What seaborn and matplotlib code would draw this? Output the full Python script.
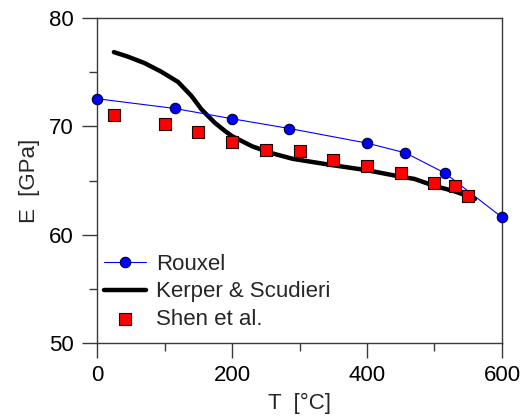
import matplotlib
matplotlib.use("Agg")
import matplotlib.pyplot as plt
from matplotlib.ticker import MultipleLocator
import seaborn as sns
import pandas as pd

# Young's modulus of glass versus temperature
rouxel_T = [0, 115, 200, 285, 400, 457, 515, 600]
rouxel_E = [72.55, 71.65, 70.7, 69.8, 68.45, 67.55, 65.7, 61.6]

kerper_T = [25, 45, 70, 95, 120, 140, 155, 175, 190, 200, 230, 260, 290,
            345, 400, 450, 470, 500, 530, 560]
kerper_E = [76.85, 76.45, 75.85, 75.05, 74.1, 72.8, 71.55, 70.3, 69.55, 69.1,
            68.15, 67.5, 67.0, 66.45, 65.95, 65.35, 65.15, 64.5, 64.0, 63.3]

shen_T = [25, 100, 150, 200, 250, 300, 350, 400, 450, 500, 530, 550]
shen_E = [71.05, 70.25, 69.5, 68.6, 67.8, 67.7, 66.9, 66.3, 65.7, 64.75,
          64.45, 63.6]

x_ticks = [0, 200, 400, 600]
y_ticks = [50, 60, 70, 80]

sns.set_style("ticks")
plt.rcParams["font.family"] = ["Liberation Sans", "DejaVu Sans"]

fig = plt.figure(figsize=(5.26, 4.17), dpi=100)
ax = fig.add_axes([97 / 526, 1 - 343 / 417, 405 / 526, 325 / 417])

rouxel = pd.DataFrame({"T": rouxel_T, "E": rouxel_E})
kerper = pd.DataFrame({"T": kerper_T, "E": kerper_E})
shen = pd.DataFrame({"T": shen_T, "E": shen_E})

sns.lineplot(data=rouxel, x="T", y="E", ax=ax, color="#0000ff", lw=0.8,
             marker="o", markersize=7.5, markerfacecolor="#0000ff",
             markeredgecolor="#000033", markeredgewidth=0.8,
             label="Rouxel", zorder=3, clip_on=False)
sns.lineplot(data=kerper, x="T", y="E", ax=ax, color="black", lw=3.2,
             label="Kerper & Scudieri", zorder=2)
sns.scatterplot(data=shen, x="T", y="E", ax=ax, color="#ff0000", marker="s",
                s=80, edgecolor="#220000", linewidth=0.8,
                label="Shen et al.", zorder=4)

ax.set_xlim(0, 600)
ax.set_ylim(50, 80)
ax.set_xticks(x_ticks)
ax.set_yticks(y_ticks)
ax.xaxis.set_minor_locator(MultipleLocator(100))
ax.yaxis.set_minor_locator(MultipleLocator(5))

spine_color = "#3a3a3a"
for s in ax.spines.values():
    s.set_visible(True)
    s.set_color(spine_color)
    s.set_linewidth(1.0)
ax.tick_params(which="major", direction="out", length=11, width=1.0,
               color=spine_color, labelsize=16, labelcolor="black")
ax.tick_params(axis="y", which="major", pad=6)
ax.tick_params(axis="x", which="major", pad=5)
ax.tick_params(which="minor", direction="out", length=5.5, width=1.0,
               color=spine_color)

ax.set_xlabel("T  [°C]", fontsize=16, labelpad=5)
ax.set_ylabel("E  [GPa]", fontsize=16, labelpad=6)

ax.legend(loc="lower left", bbox_to_anchor=(0.0, 0.02), frameon=False,
          fontsize=16, handlelength=1.9, handletextpad=0.45,
          labelspacing=0.29, borderaxespad=0.0, borderpad=0.3)

fig.savefig("out.png", dpi=100)
